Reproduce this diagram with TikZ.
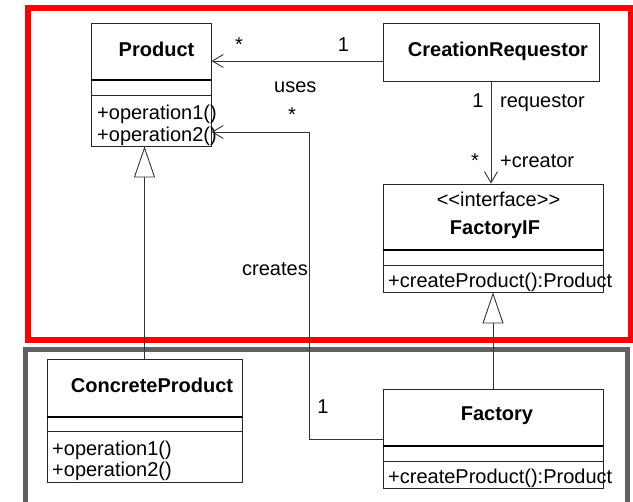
\documentclass[tikz,border=0pt]{standalone}
\usepackage{fontspec}
\setmainfont{Liberation Sans}
\usetikzlibrary{arrows.meta}
\begin{document}
\begin{tikzpicture}[x=1pt,y=-1pt,
  font=\fontsize{20}{24}\selectfont,
  classbox/.style={draw=black!85, line width=0.9pt, inner sep=0pt, rectangle},
  sep/.style={draw=black!85, line width=0.9pt},
  septhick/.style={draw=black, line width=2pt},
  lbl/.style={inner sep=0pt, anchor=base},
  lblw/.style={inner sep=0pt, anchor=base west},
  conn/.style={draw=black!80, line width=0.9pt},
  nav/.style={conn, -{Straight Barb[length=11pt,width=13pt]}},
  gen/.style={conn, -{Triangle[length=31pt,width=21pt,fill=white]}},
]
\useasboundingbox (0,0) rectangle (633,502);
\clip (0,0) rectangle (633,502);

% package frames
\draw[red, line width=6pt] (28,8) rectangle (630.5,340);
\draw[black!62, line width=5pt] (25.5,349.5) rectangle (627.5,530);

% class boxes
\node[classbox, minimum width=120pt, minimum height=123pt] (product) at (151,84.5) {};
\node[classbox, minimum width=216pt, minimum height=58pt] (creq) at (491,52) {};
\node[classbox, minimum width=220pt, minimum height=108pt] (fif) at (493,238) {};
\node[classbox, minimum width=220pt, minimum height=99pt] (factory) at (493,438.5) {};
\node[classbox, minimum width=195pt, minimum height=123pt] (cp) at (144.5,420.5) {};

% compartment separators
\draw[septhick] (product.west |- 0,80) -- (product.east |- 0,80);
\draw[sep] (product.west |- 0,95) -- (product.east |- 0,95);
\draw[septhick] (fif.west |- 0,250) -- (fif.east |- 0,250);
\draw[sep] (fif.west |- 0,265) -- (fif.east |- 0,265);
\draw[septhick] (factory.west |- 0,446) -- (factory.east |- 0,446);
\draw[sep] (factory.west |- 0,461) -- (factory.east |- 0,461);
\draw[septhick] (cp.west |- 0,417) -- (cp.east |- 0,417);
\draw[sep] (cp.west |- 0,431) -- (cp.east |- 0,431);

% class texts
\node[lbl] (productname) at (156.5,57) {\bfseries Product};
\node[lblw] (productop1) at (97,120) {+operation1()};
\node[lblw] (productop2) at (97,142) {+operation2()};
\node[lbl] (creqname) at (498,57) {\bfseries CreationRequestor};
\node[lbl] (fifstereo) at (498.5,207) {<\kern0pt<interface>\kern0pt>};
\node[lbl] (fifname) at (495,235) {\bfseries FactoryIF};
\node[lblw] (fifop) at (388,288) {+createProduct():Product};
\node[lbl] (factoryname) at (497,421) {\bfseries Factory};
\node[lblw] (factoryop) at (388,484) {+createProduct():Product};
\node[lbl] (cpname) at (152,393) {\bfseries ConcreteProduct};
\node[lblw] (cpop1) at (52,456) {+operation1()};
\node[lblw] (cpop2) at (52,477) {+operation2()};

% connectors
\draw[nav] (creq.west |- 0,61) -- (product.east |- 0,61);
\draw[nav] (creq.south) -- (creq.south |- fif.north);
\draw[gen] (factory.north) -- (fif.south);
\draw[gen] (cp.north) -- (cp.north |- product.south);
\draw[nav] (factory.west |- 0,439) -| (309,132) -- (product.east |- 0,132);

% connector labels
\node[lbl] (usesmany) at (239,52) {*};
\node[lbl] (usesone) at (343.5,52) {1};
\node[lblw] (uses) at (274,93) {uses};
\node[lbl] (createsmany) at (292,122) {*};
\node[lbl] (reqone) at (478,108) {1};
\node[lblw] (reqrole) at (500,108) {requestor};
\node[lbl] (creatormany) at (475,168) {*};
\node[lblw] (creatorrole) at (500,168) {+creator};
\node[lblw] (creates) at (242,276) {creates};
\node[lbl] (createsone) at (323,414) {1};
\end{tikzpicture}
\end{document}
